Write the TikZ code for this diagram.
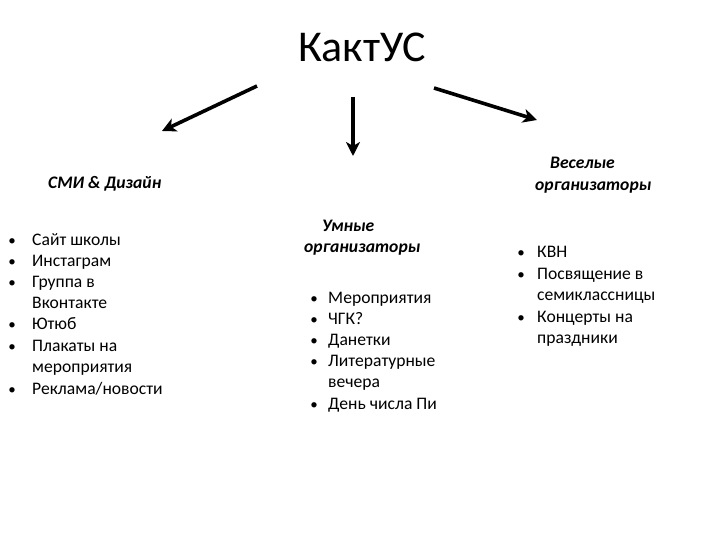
\documentclass[tikz,border=0pt]{standalone}
\usepackage{fontspec}
\setmainfont{Carlito}
\usetikzlibrary{arrows.meta}
\begin{document}
\begin{tikzpicture}[x=1pt,y=-1pt,
  arr/.style={line width=3.6pt,-{Stealth[length=14pt,width=14pt,inset=4pt]}},
  txt/.style={anchor=base west,inner sep=0pt,font=\fontsize{17.6}{21}\selectfont},
  bul/.style={anchor=base,inner sep=0pt,font=\fontsize{15}{18}\selectfont},
  head/.style={anchor=base west,inner sep=0pt,font=\fontsize{17.6}{21}\selectfont\bfseries\itshape}]
\useasboundingbox (0,0) rectangle (720,540);
\node[anchor=base,inner sep=0pt,font=\fontsize{44}{50}\selectfont] (title) at (362,62) {КактУС};
\coordinate (la) at (257,86); \coordinate (lb) at (162,131);
\coordinate (ma) at (353,97); \coordinate (mb) at (353,156);
\coordinate (ra) at (434,88); \coordinate (rb) at (537,120);
\draw[arr] (la) -- (lb);
\draw[arr] (ma) -- (mb);
\draw[arr] (ra) -- (rb);
% left column
\node[head] (h1) at (48,189) {СМИ \& Дизайн};
\foreach \y/\t/\b [count=\i] in {245/{Сайт школы}/1,266/{Инстаграм}/1,287/{Группа в}/1,308/{Вконтакте}/0,329/{Ютюб}/1,351/{Плакаты на}/1,372/{мероприятия}/0,394/{Реклама/новости}/1}{
  \node[txt] (l\i) at (32,\y) {\t};
  \ifnum\b=1 \node[bul] (lb\i) at (12,\y) {•};\fi
}
% middle column
\node[head] (h2a) at (322,232) {Умные};
\node[head] (h2b) at (304,252) {организаторы};
\foreach \y/\t/\b [count=\i] in {303/{Мероприятия}/1,324/{ЧГК?}/1,345/{Данетки}/1,366/{Литературные}/1,387/{вечера}/0,409/{День числа Пи}/1}{
  \node[txt] (m\i) at (328,\y) {\t};
  \ifnum\b=1 \node[bul] (mb\i) at (314,\y) {•};\fi
}
% right column
\node[head] (h3a) at (550,169) {Веселые};
\node[head] (h3b) at (535,191) {организаторы};
\foreach \y/\t/\b [count=\i] in {258/{КВН}/1,279/{Посвящение в}/1,300/{семиклассницы}/0,322/{Концерты на}/1,343/{праздники}/0}{
  \node[txt] (r\i) at (537,\y) {\t};
  \ifnum\b=1 \node[bul] (rbl\i) at (521,\y) {•};\fi
}
\end{tikzpicture}
\end{document}
